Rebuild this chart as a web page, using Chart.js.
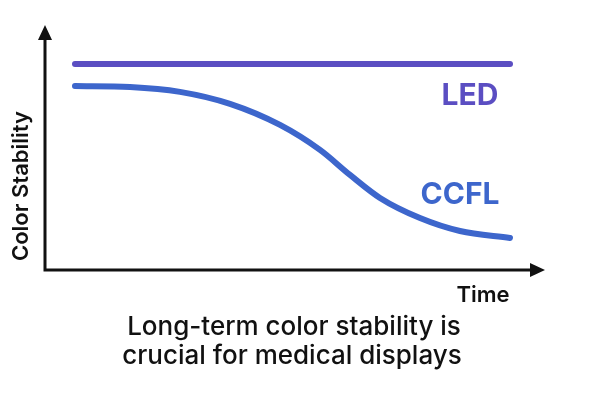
<!DOCTYPE html>
<html>
<head>
<meta charset="utf-8">
<script src="https://cdn.jsdelivr.net/npm/chart.js@4"></script>
<style>
  body { margin: 0; background: #fff; }
  #wrap { width: 600px; height: 400px; }
</style>
</head>
<body>
<div id="wrap"><canvas id="myChart" width="600" height="400"></canvas></div>
<script>
const timeX = [0.6, 1.7, 2.7, 3.7, 4.7, 5.5, 6.1, 6.7, 7.5, 8.3, 9.3];
const ledValues = [8.41, 8.41, 8.41, 8.41, 8.41, 8.41, 8.41, 8.41, 8.41, 8.41, 8.41];
const ccflValues = [7.51, 7.47, 7.27, 6.78, 5.92, 4.9, 3.88, 2.94, 2.12, 1.59, 1.31];
const seriesNames = ['LED', 'CCFL'];
const axisTitles = { x: 'Time', y: 'Color Stability' };
const caption = ['Long-term color stability is', 'crucial for medical displays'];

const LED_COLOR = '#5b4ec2';
const CCFL_COLOR = '#3d66cc';
const FONT = 'Inter, Roboto, "DejaVu Sans", sans-serif';

const decor = {
  id: 'decor',
  afterDraw(chart) {
    const ctx = chart.ctx;
    const a = chart.chartArea;
    const xs = chart.scales.x, ys = chart.scales.y;
    ctx.save();
    ctx.strokeStyle = '#111';
    ctx.fillStyle = '#111';
    ctx.lineWidth = 3;
    // axes
    ctx.beginPath();
    ctx.moveTo(a.left, a.top + 10);
    ctx.lineTo(a.left, a.bottom);
    ctx.lineTo(a.right - 10, a.bottom);
    ctx.stroke();
    // arrowheads
    ctx.beginPath();
    ctx.moveTo(a.left, a.top);
    ctx.lineTo(a.left - 7, a.top + 15);
    ctx.lineTo(a.left + 7, a.top + 15);
    ctx.closePath();
    ctx.fill();
    ctx.beginPath();
    ctx.moveTo(a.right, a.bottom);
    ctx.lineTo(a.right - 15, a.bottom - 7);
    ctx.lineTo(a.right - 15, a.bottom + 7);
    ctx.closePath();
    ctx.fill();

    // series labels
    ctx.font = 'bold 30px ' + FONT;
    ctx.textAlign = 'center';
    ctx.textBaseline = 'middle';
    ctx.fillStyle = LED_COLOR;
    ctx.fillText(seriesNames[0], xs.getPixelForValue(8.5), ys.getPixelForValue(7.1));
    ctx.fillStyle = CCFL_COLOR;
    ctx.fillText(seriesNames[1], xs.getPixelForValue(8.3), ys.getPixelForValue(3.05));

    // axis titles
    ctx.fillStyle = '#111';
    ctx.font = '600 22px ' + FONT;
    ctx.fillText(axisTitles.x, 483, 295);
    ctx.save();
    ctx.translate(21, 186);
    ctx.rotate(-Math.PI / 2);
    ctx.fillText(axisTitles.y, 0, 0);
    ctx.restore();

    // caption
    ctx.font = '500 26px ' + FONT;
    ctx.fillText(caption[0], 294, 327);
    ctx.fillText(caption[1], 292, 356);
    ctx.restore();
  }
};

const ctx = document.getElementById('myChart').getContext('2d');
new Chart(ctx, {
  type: 'line',
  data: {
    datasets: [
      {
        label: seriesNames[0],
        data: timeX.map((x, i) => ({ x, y: ledValues[i] })),
        borderColor: LED_COLOR,
        borderWidth: 6,
        pointRadius: 0,
        borderCapStyle: 'round'
      },
      {
        label: seriesNames[1],
        data: timeX.map((x, i) => ({ x, y: ccflValues[i] })),
        borderColor: CCFL_COLOR,
        borderWidth: 6,
        pointRadius: 0,
        cubicInterpolationMode: 'monotone',
        borderCapStyle: 'round'
      }
    ]
  },
  options: {
    responsive: false,
    animation: false,
    layout: { padding: { left: 45, right: 55, top: 25, bottom: 130 } },
    plugins: { legend: { display: false }, tooltip: { enabled: false } },
    scales: {
      x: { type: 'linear', min: 0, max: 10, display: false },
      y: { min: 0, max: 10, display: false }
    }
  },
  plugins: [decor]
});
</script>
</body>
</html>
